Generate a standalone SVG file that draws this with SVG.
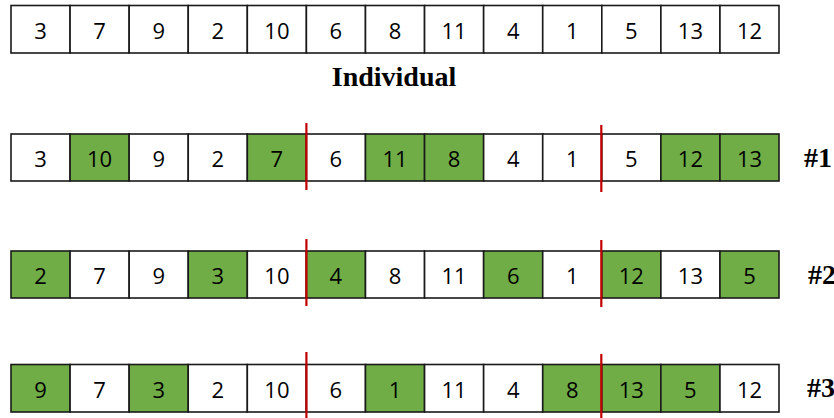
<svg xmlns="http://www.w3.org/2000/svg" width="834" height="418" viewBox="0 0 834 418">
<style>
.c{fill:#fff;stroke:#1a1a1a;stroke-width:1.6}
.g{fill:#70AD47;stroke:#1a1a1a;stroke-width:1.6}
.t{font-family:"Open Sans","Noto Sans",sans-serif;font-size:22px;fill:#000;text-anchor:middle;dominant-baseline:central}
.lbl{font-family:"Liberation Serif",serif;font-weight:bold;font-size:28px;fill:#000}
.cut{stroke:#C00000;stroke-width:2.2}
</style>
<rect width="834" height="418" fill="#fff"/>
<g id="individual">
<rect class="c" x="11" y="5.5" width="59.08" height="47.5"/><text class="t" x="40.5" y="30">3</text>
<rect class="c" x="70.08" y="5.5" width="59.08" height="47.5"/><text class="t" x="99.6" y="30">7</text>
<rect class="c" x="129.16" y="5.5" width="59.08" height="47.5"/><text class="t" x="158.7" y="30">9</text>
<rect class="c" x="188.24" y="5.5" width="59.08" height="47.5"/><text class="t" x="217.8" y="30">2</text>
<rect class="c" x="247.32" y="5.5" width="59.08" height="47.5"/><text class="t" x="276.9" y="30">10</text>
<rect class="c" x="306.4" y="5.5" width="59.08" height="47.5"/><text class="t" x="335.9" y="30">6</text>
<rect class="c" x="365.48" y="5.5" width="59.08" height="47.5"/><text class="t" x="395" y="30">8</text>
<rect class="c" x="424.56" y="5.5" width="59.08" height="47.5"/><text class="t" x="454.1" y="30">11</text>
<rect class="c" x="483.64" y="5.5" width="59.08" height="47.5"/><text class="t" x="513.2" y="30">4</text>
<rect class="c" x="542.72" y="5.5" width="59.08" height="47.5"/><text class="t" x="572.3" y="30">1</text>
<rect class="c" x="601.8" y="5.5" width="59.08" height="47.5"/><text class="t" x="631.3" y="30">5</text>
<rect class="c" x="660.88" y="5.5" width="59.08" height="47.5"/><text class="t" x="690.4" y="30">13</text>
<rect class="c" x="719.96" y="5.5" width="59.04" height="47.5"/><text class="t" x="749.5" y="30">12</text>
</g>
<text id="individual-label" class="lbl" x="394" y="86" text-anchor="middle">Individual</text>
<g id="row1">
<rect class="c" x="11" y="134" width="59.08" height="47"/><text class="t" x="40.5" y="158">3</text>
<rect class="g" x="70.08" y="134" width="59.08" height="47"/><text class="t" x="99.6" y="158">10</text>
<rect class="c" x="129.16" y="134" width="59.08" height="47"/><text class="t" x="158.7" y="158">9</text>
<rect class="c" x="188.24" y="134" width="59.08" height="47"/><text class="t" x="217.8" y="158">2</text>
<rect class="g" x="247.32" y="134" width="59.08" height="47"/><text class="t" x="276.9" y="158">7</text>
<rect class="c" x="306.4" y="134" width="59.08" height="47"/><text class="t" x="335.9" y="158">6</text>
<rect class="g" x="365.48" y="134" width="59.08" height="47"/><text class="t" x="395" y="158">11</text>
<rect class="g" x="424.56" y="134" width="59.08" height="47"/><text class="t" x="454.1" y="158">8</text>
<rect class="c" x="483.64" y="134" width="59.08" height="47"/><text class="t" x="513.2" y="158">4</text>
<rect class="c" x="542.72" y="134" width="59.08" height="47"/><text class="t" x="572.3" y="158">1</text>
<rect class="c" x="601.8" y="134" width="59.08" height="47"/><text class="t" x="631.3" y="158">5</text>
<rect class="g" x="660.88" y="134" width="59.08" height="47"/><text class="t" x="690.4" y="158">12</text>
<rect class="g" x="719.96" y="134" width="59.04" height="47"/><text class="t" x="749.5" y="158">13</text>
<text class="lbl" x="804" y="167">#1</text>
</g>
<g id="row2">
<rect class="g" x="11" y="251" width="59.08" height="47"/><text class="t" x="40.5" y="275">2</text>
<rect class="c" x="70.08" y="251" width="59.08" height="47"/><text class="t" x="99.6" y="275">7</text>
<rect class="c" x="129.16" y="251" width="59.08" height="47"/><text class="t" x="158.7" y="275">9</text>
<rect class="g" x="188.24" y="251" width="59.08" height="47"/><text class="t" x="217.8" y="275">3</text>
<rect class="c" x="247.32" y="251" width="59.08" height="47"/><text class="t" x="276.9" y="275">10</text>
<rect class="g" x="306.4" y="251" width="59.08" height="47"/><text class="t" x="335.9" y="275">4</text>
<rect class="c" x="365.48" y="251" width="59.08" height="47"/><text class="t" x="395" y="275">8</text>
<rect class="c" x="424.56" y="251" width="59.08" height="47"/><text class="t" x="454.1" y="275">11</text>
<rect class="g" x="483.64" y="251" width="59.08" height="47"/><text class="t" x="513.2" y="275">6</text>
<rect class="c" x="542.72" y="251" width="59.08" height="47"/><text class="t" x="572.3" y="275">1</text>
<rect class="g" x="601.8" y="251" width="59.08" height="47"/><text class="t" x="631.3" y="275">12</text>
<rect class="c" x="660.88" y="251" width="59.08" height="47"/><text class="t" x="690.4" y="275">13</text>
<rect class="g" x="719.96" y="251" width="59.04" height="47"/><text class="t" x="749.5" y="275">5</text>
<text class="lbl" x="808" y="284">#2</text>
</g>
<g id="row3">
<rect class="g" x="11" y="364.5" width="59.08" height="47.5"/><text class="t" x="40.5" y="389">9</text>
<rect class="c" x="70.08" y="364.5" width="59.08" height="47.5"/><text class="t" x="99.6" y="389">7</text>
<rect class="g" x="129.16" y="364.5" width="59.08" height="47.5"/><text class="t" x="158.7" y="389">3</text>
<rect class="c" x="188.24" y="364.5" width="59.08" height="47.5"/><text class="t" x="217.8" y="389">2</text>
<rect class="c" x="247.32" y="364.5" width="59.08" height="47.5"/><text class="t" x="276.9" y="389">10</text>
<rect class="c" x="306.4" y="364.5" width="59.08" height="47.5"/><text class="t" x="335.9" y="389">6</text>
<rect class="g" x="365.48" y="364.5" width="59.08" height="47.5"/><text class="t" x="395" y="389">1</text>
<rect class="c" x="424.56" y="364.5" width="59.08" height="47.5"/><text class="t" x="454.1" y="389">11</text>
<rect class="c" x="483.64" y="364.5" width="59.08" height="47.5"/><text class="t" x="513.2" y="389">4</text>
<rect class="g" x="542.72" y="364.5" width="59.08" height="47.5"/><text class="t" x="572.3" y="389">8</text>
<rect class="g" x="601.8" y="364.5" width="59.08" height="47.5"/><text class="t" x="631.3" y="389">13</text>
<rect class="g" x="660.88" y="364.5" width="59.08" height="47.5"/><text class="t" x="690.4" y="389">5</text>
<rect class="c" x="719.96" y="364.5" width="59.04" height="47.5"/><text class="t" x="749.5" y="389">12</text>
<text class="lbl" x="807" y="397">#3</text>
</g>
<g id="cuts">
<line class="cut" x1="306.4" y1="123" x2="306.4" y2="190"/>
<line class="cut" x1="601.3" y1="125" x2="601.3" y2="192"/>
<line class="cut" x1="306.4" y1="239" x2="306.4" y2="306"/>
<line class="cut" x1="601.3" y1="240" x2="601.3" y2="307"/>
<line class="cut" x1="306.4" y1="352" x2="306.4" y2="418"/>
<line class="cut" x1="601.3" y1="354" x2="601.3" y2="418"/>
</g>
</svg>
